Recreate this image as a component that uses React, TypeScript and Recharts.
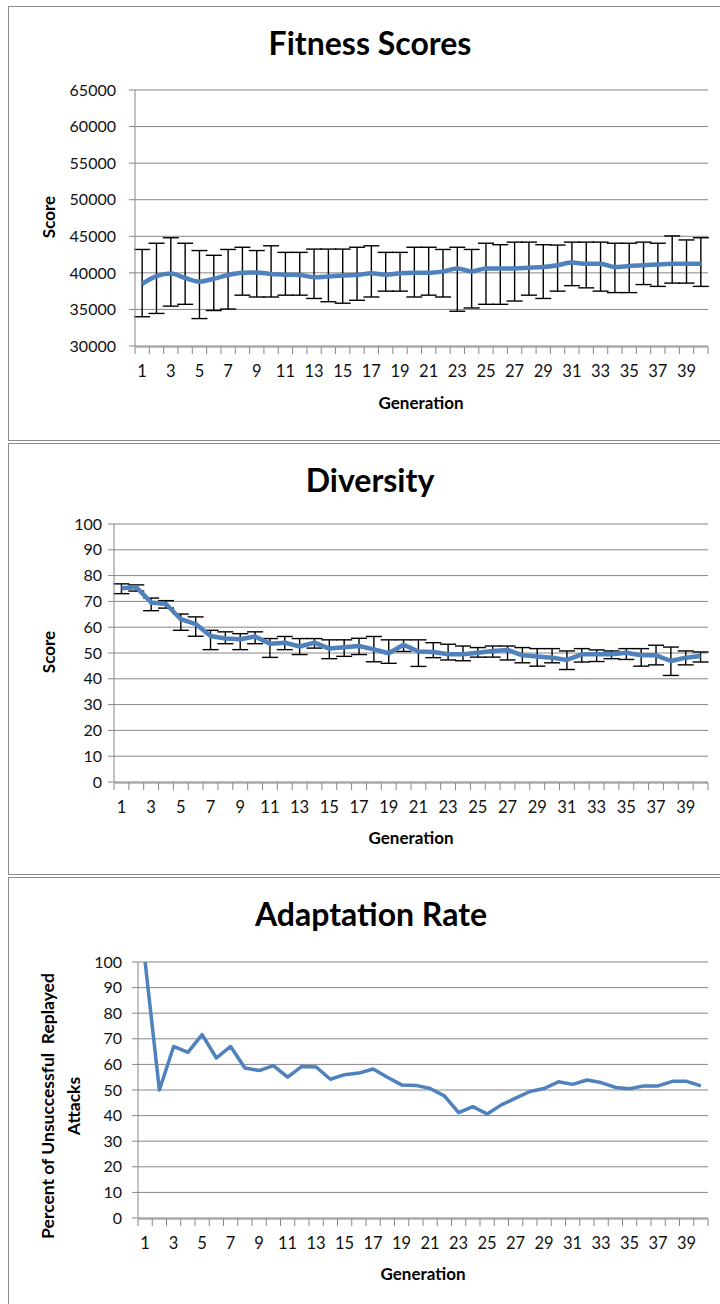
import React from 'react';
import { LineChart, Line, XAxis, YAxis, CartesianGrid, ErrorBar } from 'recharts';

const generations = [
  1, 2, 3, 4, 5, 6, 7, 8, 9, 10, 11, 12, 13, 14, 15, 16, 17, 18, 19, 20,
  21, 22, 23, 24, 25, 26, 27, 28, 29, 30, 31, 32, 33, 34, 35, 36, 37, 38, 39, 40,
];

const fitnessMean = [
  38500, 39550, 39900, 39300, 38800, 39200, 39700, 40000, 40050, 39850,
  39750, 39700, 39400, 39500, 39650, 39700, 39950, 39750, 39950, 40000,
  40000, 40200, 40600, 40200, 40600, 40600, 40600, 40700, 40800, 41050,
  41400, 41250, 41250, 40800, 40950, 41050, 41150, 41250, 41250, 41250,
];
const fitnessUpper = [
  43200, 44050, 44800, 44050, 43050, 42400, 43200, 43500, 43050, 43700,
  42800, 42800, 43250, 43250, 43250, 43500, 43700, 42800, 42800, 43500,
  43500, 43200, 43500, 43200, 44050, 43850, 44200, 44200, 43850, 43800,
  44200, 44200, 44200, 44050, 44050, 44200, 44050, 45050, 44500, 44800,
];
const fitnessLower = [
  34000, 34450, 35450, 35700, 33750, 34850, 35050, 36950, 36700, 36700,
  36950, 36950, 36500, 36050, 35850, 36250, 36700, 37500, 37500, 36700,
  36950, 36700, 34750, 35200, 35700, 35700, 36150, 36950, 36500, 37500,
  38250, 37950, 37500, 37300, 37300, 38400, 38150, 38600, 38600, 38150,
];

const diversityMean = [
  75.1, 75.5, 69.6, 69.0, 63.1, 61.2, 56.6, 55.6, 55.3, 56.4,
  53.6, 54.0, 52.5, 54.0, 51.7, 52.2, 52.7, 51.4, 49.9, 53.2,
  50.6, 50.4, 49.5, 49.5, 50.1, 50.8, 51.2, 49.1, 48.6, 48.2,
  47.3, 49.5, 49.5, 49.5, 50.1, 49.1, 49.1, 46.9, 48.2, 48.8,
];
const diversityUpper = [
  76.8, 76.4, 71.3, 70.3, 65.1, 64.0, 58.8, 58.2, 57.5, 58.2,
  55.6, 56.4, 55.6, 55.6, 55.1, 55.1, 55.7, 56.4, 55.1, 55.1,
  55.1, 54.0, 53.4, 52.7, 52.1, 52.7, 52.7, 52.1, 51.7, 51.7,
  50.8, 51.7, 51.2, 50.8, 51.7, 51.7, 53.0, 52.3, 50.8, 50.4,
];
const diversityLower = [
  73.0, 74.0, 66.4, 67.4, 58.8, 56.5, 51.3, 53.6, 51.3, 53.6,
  48.3, 51.3, 49.4, 51.9, 47.8, 48.7, 49.4, 46.6, 46.0, 50.6,
  44.8, 48.2, 47.3, 47.0, 48.4, 48.4, 47.3, 46.2, 44.9, 46.2,
  43.6, 46.5, 46.7, 47.8, 47.5, 44.9, 45.4, 41.3, 45.4, 46.5,
];

const adaptationRate = [
  100, 50, 67, 64.7, 71.6, 62.5, 67, 58.6, 57.6, 59.5,
  55, 59.2, 59, 54.2, 56, 56.6, 58.2, 55, 52, 51.8,
  50.6, 47.7, 41.2, 43.5, 40.6, 44.2, 46.8, 49.4, 50.6, 53.2,
  52.2, 53.9, 52.9, 51, 50.5, 51.6, 51.6, 53.4, 53.4, 51.6,
];

const fitnessTicks = [30000, 35000, 40000, 45000, 50000, 55000, 60000, 65000];
const percentTicks = [0, 10, 20, 30, 40, 50, 60, 70, 80, 90, 100];

const FONT = 'Lato, "Open Sans", sans-serif';
const BLUE = '#4f81bd';
const GRID = '#868686';

// tick marks sit on category boundaries, labels on every other category
const boundaryTicks = generations.map((g) => g - 0.5).concat(generations.length + 0.5);
const labelTicks = generations.filter((g) => g % 2 === 1);
const xDomain: [number, number] = [0.5, generations.length + 0.5];

const fitnessData = generations.map((g, i) => ({
  gen: g,
  value: fitnessMean[i],
  err: [fitnessMean[i] - fitnessLower[i], fitnessUpper[i] - fitnessMean[i]],
}));
const diversityData = generations.map((g, i) => ({
  gen: g,
  value: diversityMean[i],
  err: [diversityMean[i] - diversityLower[i], diversityUpper[i] - diversityMean[i]],
}));
const adaptationData = generations.map((g, i) => ({ gen: g, value: adaptationRate[i] }));

const NoLabel = () => <g />;

function Caption({ x, y, size, bold = true, rotate = false, lineHeight = 1, children }: any) {
  return (
    <div
      style={{
        position: 'absolute',
        left: x,
        top: y,
        transform: `translate(-50%, -50%)${rotate ? ' rotate(-90deg)' : ''}`,
        fontFamily: FONT,
        fontSize: size,
        fontWeight: bold ? 700 : 400,
        lineHeight,
        whiteSpace: 'pre',
        textAlign: 'center',
        color: '#000',
      }}
    >
      {children}
    </div>
  );
}

function Panel({ top, bottom, plotLeft, plotTop, plotBottom, data, domain, ticks, errors, smooth, strokeWidth, tickGap }: any) {
  const height = bottom - top;
  return (
    <>
      <div
        style={{
          position: 'absolute',
          left: 8,
          top,
          width: 740,
          height: height - 2,
          border: '1px solid #8c8c8c',
          background: '#fff',
        }}
      />
      <div style={{ position: 'absolute', left: 0, top, width: 720, height }}>
        <LineChart
          width={720}
          height={height}
          data={data}
          margin={{ top: plotTop - top, right: 12, left: 0, bottom: height - (plotBottom - top) - 2 }}
        >
          <CartesianGrid vertical={false} stroke={GRID} strokeWidth={1} />
          <XAxis
            xAxisId="marks"
            dataKey="gen"
            type="number"
            domain={xDomain}
            ticks={boundaryTicks}
            interval={0}
            height={1}
            tick={NoLabel}
            tickSize={7}
            axisLine={{ stroke: GRID }}
            tickLine={{ stroke: GRID }}
          />
          <XAxis
            xAxisId="labels"
            dataKey="gen"
            type="number"
            domain={xDomain}
            ticks={labelTicks}
            interval={0}
            height={1}
            axisLine={false}
            tickLine={false}
            tickSize={0}
            tickMargin={19}
            tick={{ fontFamily: FONT, fontSize: 16.5, fill: '#111' }}
          />
          <YAxis
            domain={domain}
            ticks={ticks}
            interval={0}
            width={plotLeft}
            tickSize={6}
            tickMargin={tickGap}
            axisLine={{ stroke: GRID }}
            tickLine={{ stroke: GRID }}
            tick={{ fontFamily: FONT, fontSize: 16, fill: '#111' }}
            allowDataOverflow
          />
          <Line
            xAxisId="labels"
            dataKey="value"
            type={smooth ? 'monotone' : 'linear'}
            stroke={BLUE}
            strokeWidth={strokeWidth}
            strokeLinejoin="round"
            dot={false}
            activeDot={false}
            isAnimationActive={false}
          >
            {errors && <ErrorBar dataKey="err" direction="y" width={8} stroke="#000" strokeWidth={1.4} isAnimationActive={false} />}
          </Line>
        </LineChart>
      </div>
    </>
  );
}

export default function App() {
  return (
    <div style={{ position: 'absolute', left: 0, top: 0, width: 720, height: 1304, overflow: 'hidden', background: '#fff' }}>
      <Panel
        top={6} bottom={441} plotLeft={135} plotTop={90} plotBottom={346}
        data={fitnessData} domain={[30000, 65000]} ticks={fitnessTicks}
        errors smooth strokeWidth={4.5} tickGap={13}
      />
      <Caption x={370} y={43} size={32}>Fitness Scores</Caption>
      <Caption x={48} y={217} size={17} rotate>Score</Caption>
      <Caption x={421} y={402} size={17}>Generation</Caption>

      <Panel
        top={443} bottom={875} plotLeft={114} plotTop={524} plotBottom={782}
        data={diversityData} domain={[0, 100]} ticks={percentTicks}
        errors strokeWidth={4.5} tickGap={6}
      />
      <Caption x={370} y={480} size={32}>Diversity</Caption>
      <Caption x={48} y={652} size={17} rotate>Score</Caption>
      <Caption x={411} y={837} size={17}>Generation</Caption>

      <Panel
        top={877} bottom={1310} plotLeft={138} plotTop={962} plotBottom={1218}
        data={adaptationData} domain={[0, 100]} ticks={percentTicks}
        strokeWidth={3.5} tickGap={10}
      />
      <Caption x={371} y={914} size={32}>Adaptation Rate</Caption>
      <Caption x={61} y={1106} size={17.5} rotate lineHeight="26px">{'Percent of Unsuccessful  Replayed\nAttacks'}</Caption>
      <Caption x={423} y={1273} size={17}>Generation</Caption>
    </div>
  );
}
